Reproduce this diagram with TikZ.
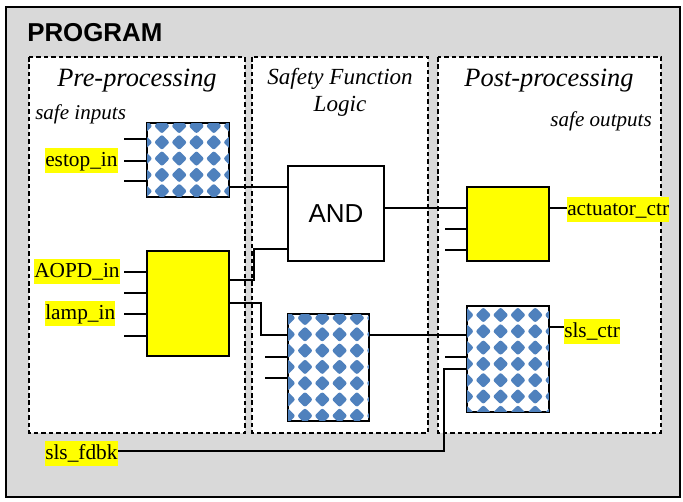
\documentclass[tikz,border=0pt]{standalone}
\usepackage{fontspec}
\setmainfont{Liberation Serif}
\newfontfamily\arialfont{Liberation Sans}
\usetikzlibrary{fit}
\definecolor{framegray}{HTML}{D9D9D9}
\definecolor{dotblue}{HTML}{4F81BD}
\definecolor{hilite}{HTML}{FFFF00}

% fill block #1 with a grid of rounded blue diamonds, first dot centred at (#2,#3)
\newcommand\dotgrid[3]{%
  \begin{scope}
    \clip (#1.south west) rectangle (#1.north east);
    \foreach \i in {0,...,6}{\foreach \j in {0,...,7}{%
      \fill[dotblue, rounded corners=1.6pt] ({#2+17.3*\i},{#3+16.3*\j-7.8}) -- ++(7.8,7.8) -- ++(-7.8,7.8) -- ++(-7.8,-7.8) -- cycle;}}
  \end{scope}
  \draw[line width=1.1pt] (#1.south west) rectangle (#1.north east);}

\begin{document}
\begin{tikzpicture}[x=0.75pt,y=-0.75pt,
  zone/.style={draw, fill=white, dash pattern=on 3.4pt off 2.2pt, line width=1.2pt},
  blk/.style={draw, line width=1.1pt, inner sep=0pt},
  yblk/.style={blk, fill=hilite},
  dblk/.style={blk, fill=white},
  wire/.style={line width=1.1pt},
  sig/.style={fill=hilite, inner sep=0pt, text height=14pt, text depth=4.7pt,
    font=\fontsize{16}{18}\selectfont},
  zonetitle/.style={font=\fontsize{19.8}{24}\selectfont\itshape, inner sep=0pt, anchor=base},
  note/.style={font=\fontsize{15.8}{19}\selectfont\itshape, inner sep=0pt},
]
\useasboundingbox (0,0) rectangle (683,502);

% program frame
\draw[fill=framegray, line width=2.2pt] (6,7) rectangle (680,497);
\node[font=\arialfont\bfseries\fontsize{19.4}{22}\selectfont, anchor=base west, inner sep=0pt] (prog) at (27,42) {PROGRAM};

% processing zones
\draw[zone] (29,57) rectangle (245,433);
\draw[zone] (252,57) rectangle (428,433);
\draw[zone] (438,57) rectangle (661,433);

\node[zonetitle] (pretitle) at (137,87) {Pre-processing};
\node[zonetitle, font=\fontsize{17.3}{20}\selectfont\itshape] (sftitle) at (340,85) {Safety Function};
\node[zonetitle, font=\fontsize{17.3}{20}\selectfont\itshape] (sftitle2) at (340,112) {Logic};
\node[zonetitle] (posttitle) at (549,87) {Post-processing};
\node[note, anchor=base west] (safein) at (35,120) {safe inputs};
\node[note, anchor=base east] (safeout) at (652,127) {safe outputs};

% function blocks
\node[dblk, fit={(147,123)(229,197)}] (estop) {};
\dotgrid{estop}{144.6}{126}
\node[yblk, fit={(147,251)(229,356)}] (aopd) {};
\node[dblk, fit={(288,166)(384,261)}] (and) {};
\node[font=\arialfont\fontsize{19.5}{22}\selectfont] at (and.center) {AND};
\node[dblk, fit={(288,314)(369,421)}] (sfb) {};
\dotgrid{sfb}{287.7}{318}
\node[yblk, fit={(467,187)(549,261)}] (act) {};
\node[dblk, fit={(467,306)(549,412)}] (sls) {};
\dotgrid{sls}{466}{315}

% signal labels
\node[sig, anchor=base west] (estopin) at (45,166.5) {estop\_in};
\node[sig, anchor=base west] (aopdin) at (34,278) {AOPD\_in};
\node[sig, anchor=base west] (lampin) at (45,320) {lamp\_in};
\node[sig, anchor=base west] (actctr) at (567,216) {actuator\_ctr};
\node[sig, anchor=base west] (slsctr) at (564,338) {sls\_ctr};
\node[sig, anchor=base west] (slsfdbk) at (45,460) {sls\_fdbk};

% input stubs
\foreach \y/\n in {139/1,161/2,181/3}{
  \coordinate (ein\n) at (124,\y);
  \draw[wire] (ein\n) -- (ein\n -| estop.west);}
\foreach \y/\n in {272/1,293/2,314/3,336/4}{
  \coordinate (ain\n) at (124,\y);
  \draw[wire] (ain\n) -- (ain\n -| aopd.west);}
\foreach \y/\n in {357/1,378/2}{
  \coordinate (sin\n) at (265,\y);
  \draw[wire] (sin\n) -- (sin\n -| sfb.west);}
\foreach \y/\n in {229/1,250/2}{
  \coordinate (cin\n) at (445,\y);
  \draw[wire] (cin\n) -- (cin\n -| act.west);}
\coordinate (lin1) at (445,357);
\draw[wire] (lin1) -- (lin1 -| sls.west);

% connections between blocks
\draw[wire] (estop.east |- 0,187) -- (and.west |- 0,187);
\draw[wire] (aopd.east |- 0,280) -- (254,280) -- (254,249) -- (and.west |- 0,249);
\draw[wire] (aopd.east |- 0,303) -- (261,303) -- (261,335) -- (sfb.west |- 0,335);
\draw[wire] (and.east |- 0,208) -- (act.west |- 0,208);
\draw[wire] (sfb.east |- 0,335) -- (sls.west |- 0,335);
\draw[wire] (act.east |- 0,208) -- (actctr.west |- 0,208);
\draw[wire] (sls.east |- 0,327) -- (slsctr.west |- 0,327);
\draw[wire] (slsfdbk.east |- 0,451) -- (444,451) -- (444,369) -- (sls.west |- 0,369);
\end{tikzpicture}
\end{document}
